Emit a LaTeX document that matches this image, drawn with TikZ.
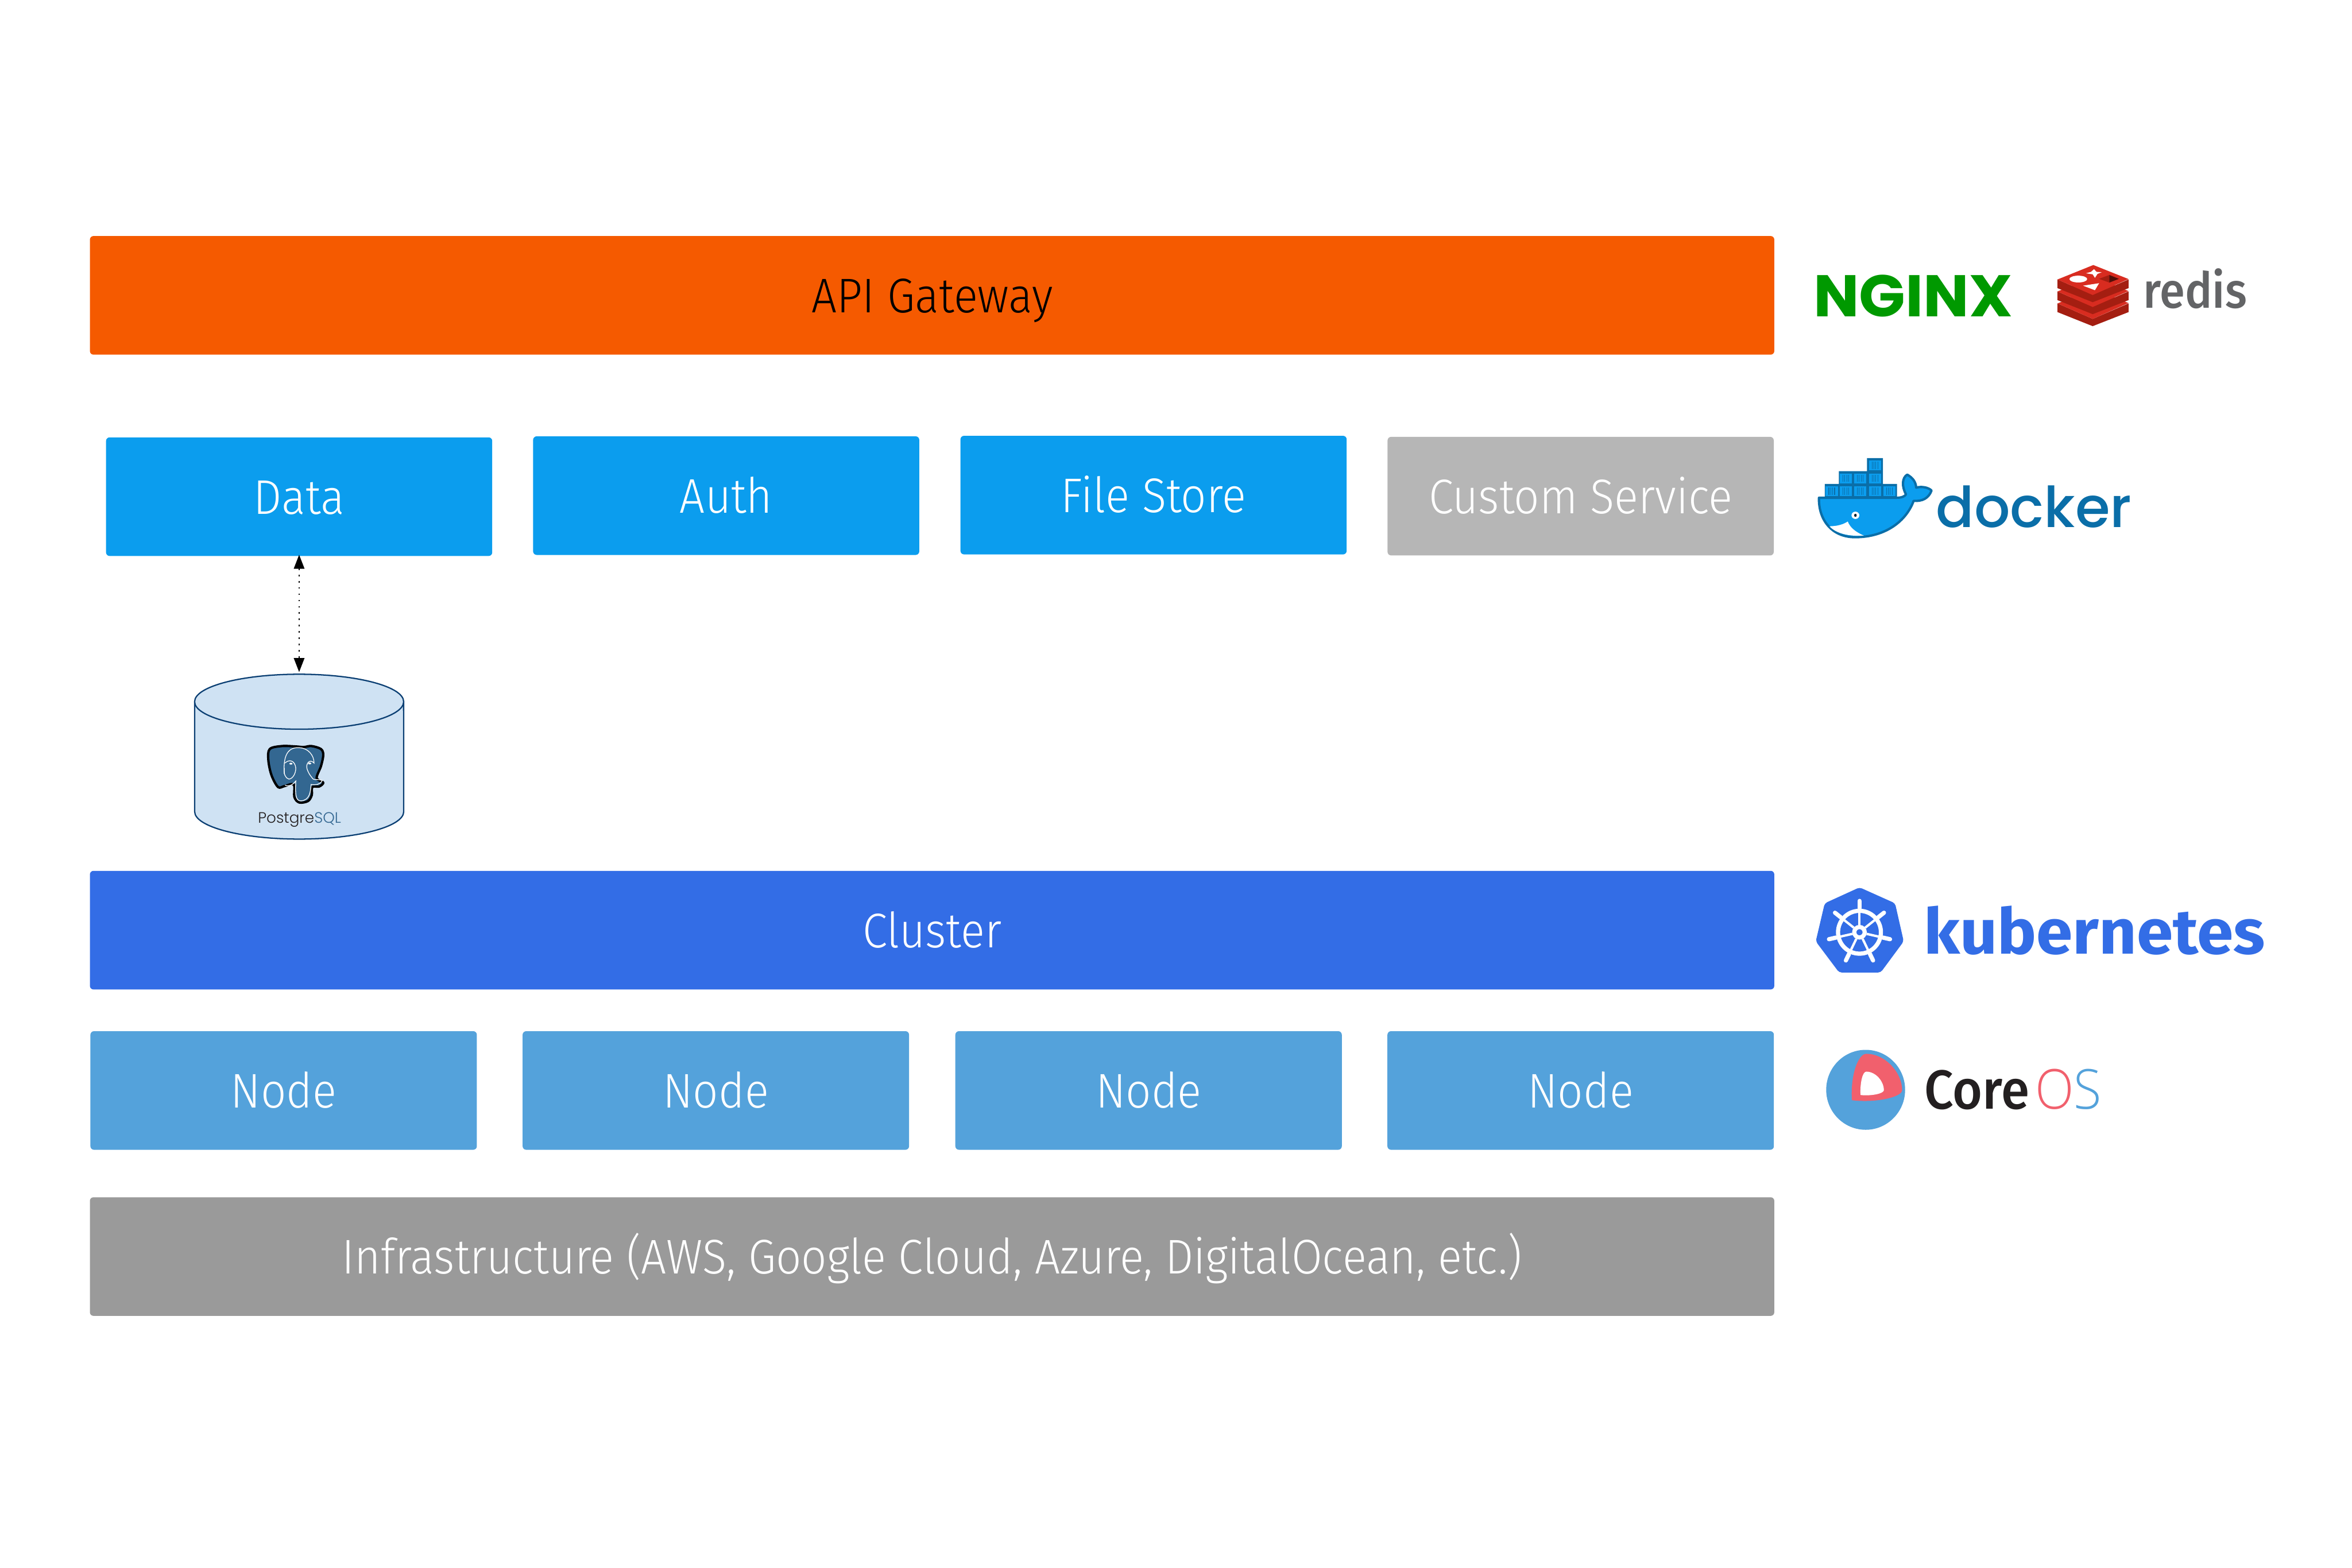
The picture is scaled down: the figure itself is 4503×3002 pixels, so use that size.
\documentclass[tikz,border=0pt]{standalone}
\usepackage{fontspec}
\usetikzlibrary{arrows.meta}
\setmainfont{Fira Sans Light}[FakeStretch=0.92]
\newfontfamily\firabold{Fira Sans Bold}
\newfontfamily\firamed{Fira Sans Medium}
\newfontfamily\popbold{Poppins Bold}
\newfontfamily\popmed{Poppins Medium}
\newfontfamily\poplight{Poppins Light}
\newfontfamily\oslight{Open Sans Light}
\definecolor{apiC}{HTML}{F55A00}
\definecolor{svcC}{HTML}{0B9DEE}
\definecolor{customC}{HTML}{B6B6B6}
\definecolor{clusterC}{HTML}{336DE6}
\definecolor{nodeC}{HTML}{54A2DB}
\definecolor{infraC}{HTML}{9A9A9A}
\definecolor{dbfill}{HTML}{CFE2F3}
\definecolor{dbline}{HTML}{0B3F73}
\definecolor{nginxC}{HTML}{009900}
\definecolor{redisL}{HTML}{D82C20}
\definecolor{redisD}{HTML}{A41E11}
\definecolor{redisT}{HTML}{636466}
\definecolor{dockD}{HTML}{0A6EA8}
\definecolor{coreR}{HTML}{F1606D}
\definecolor{coreK}{HTML}{231F20}
\definecolor{pgB}{HTML}{336791}
\tikzset{
  layerbox/.style={draw=none,rectangle,rounded corners=.07cm,inner sep=0pt,outer sep=0pt,
    minimum height=2.27cm,text height=1.465cm,text depth=.805cm,text=white,
    font=\fontsize{26.5}{30}\selectfont},
  wide/.style={layerbox,minimum width=32.23cm},
  svc/.style={layerbox,minimum width=7.39cm},
  worker/.style={layerbox,minimum width=7.395cm,fill=nodeC},
  logotext/.style={inner sep=0pt,outer sep=0pt,anchor=base west},
  dbshape/.style={fill=dbfill,draw=dbline,line width=.025cm},
  dots/.style={line width=.03cm,dash pattern=on .03cm off .09cm,shorten <=-.025cm,
    {Triangle[length=.27cm,width=.2cm]}-{Triangle[length=.27cm,width=.2cm]}},
  zoomA/.style={shift={(3420,460)},x=.006122cm,y=-.003954cm},
  zoomB/.style={shift={(3420,1660)},x=.006122cm,y=-.003316cm},
  zoomC/.style={shift={(340,1030)},x=.003333cm,y=-.003827cm},
}
\begin{document}
\begin{tikzpicture}[x=.01cm,y=-.01cm]
\useasboundingbox[fill=white] (0,0) rectangle (4503,3002);
% layers
\node[wide,fill=apiC,text=black] (api) at (1784.5,565.5) {API Gateway};
\node[svc,fill=svcC] (data) at (572.7,951) {Data};
\node[svc,fill=svcC] (auth) at (1390.3,949) {Auth};
\node[svc,fill=svcC] (files) at (2208.5,948) {File Store};
\node[svc,fill=customC] (custom) at (3026.2,950) {Custom Service};
\node[wide,fill=clusterC] (cluster) at (1784.5,1781) {Cluster};
\node[worker] (n1) at (543,2088) {Node};
\node[worker] (n2) at (1370.5,2088) {Node};
\node[worker] (n3) at (2199,2088) {Node};
\node[worker] (n4) at (3026.2,2088) {Node};
\node[wide,fill=infraC] (infra) at (1784.5,2406) {Infrastructure (AWS, Google Cloud, Azure, DigitalOcean, etc.)};
% database
\node[minimum width=4cm,minimum height=3.2cm,inner sep=0pt,outer sep=0pt] (db) at (572.7,1447) {};
\path[dbshape] (372.7,1343.6) -- (372.7,1554) arc[start angle=180,end angle=360,x radius=2cm,y radius=.526cm] -- (772.7,1343.6);
\path[dbshape] (572.7,1343.6) ellipse [x radius=2cm,y radius=.526cm];
\draw[dots] (data.south) -- (db.north);
% elephant
\begin{scope}[zoomC]
\draw[fill=pgB,line width=.045cm,line join=round] plot[smooth cycle,tension=.55] coordinates{(680,1042)(600,1040)(530,1055)(522,1110)(540,1185)(578,1245)(615,1240)(668,1232)(672,1295)(700,1322)(750,1315)(772,1285)(775,1245)(815,1242)(838,1222)(800,1200)(825,1140)(838,1085)(825,1055)(770,1040)(725,1045)};
\draw[white,line width=.014cm] (614,1180) .. controls (605,1080) and (640,1045) .. (700,1048) .. controls (750,1050) and (785,1085) .. (785,1125) .. controls (760,1100) and (735,1130) .. (745,1155) .. controls (755,1180) and (770,1195) .. (780,1205) .. controls (790,1210) and (820,1205) .. (832,1212) .. controls (820,1235) and (790,1235) .. (768,1232) .. controls (765,1270) and (760,1310) .. (710,1314) .. controls (675,1315) and (678,1270) .. (680,1215) .. controls (660,1235) and (640,1245) .. (618,1235);
\draw[white,line width=.014cm] (618,1125) .. controls (640,1105) and (675,1110) .. (680,1150) .. controls (680,1180) and (660,1205) .. (640,1205) .. controls (620,1200) and (610,1180) .. (614,1150);
\fill[white] (652,1128) ellipse [x radius=.03cm,y radius=.018cm];
\fill[white] (760,1127) ellipse [x radius=.03cm,y radius=.018cm];
\node[logotext] (pgtext) at (463,1425) {\poplight\fontsize{8.2}{9}\selectfont\textcolor{coreK}{Postgre}\textcolor{pgB}{SQL}};
\end{scope}
% nginx
\node[logotext,text=nginxC] (nginx) at (3472,606) {\popbold\fontsize{32}{36}\selectfont\scalebox{1.035}[1]{NGINX}};
% redis + docker icons
\begin{scope}[zoomA]
\foreach \d in {116,58,0}{
  \fill[redisD] (848,190+\d) -- (958,265+\d) -- (1070,190+\d) -- (1070,232+\d) -- (958,300+\d) -- (848,232+\d) -- cycle;
  \fill[redisL] (848,190+\d) -- (960,120+\d) -- (1070,188+\d) -- (958,265+\d) -- cycle;
}
\fill[white] (962,140) -- (970,153) -- (986,155) -- (973,163) -- (965,182) -- (958,165) -- (937,160) -- (953,153) -- cycle;
\fill[white] (913,188) ellipse [x radius=.17cm,y radius=.065cm];
\fill[white] (928,220) -- (978,208) -- (965,242) -- cycle;
\fill[redisD] (978,187) -- (1010,168) -- (1010,205) -- cycle;
\fill[black!50!redisD] (1010,168) -- (1040,187) -- (1010,205) -- cycle;
% docker whale
\fill[dockD] (252,1055) rectangle (302,1120) (164,1118) rectangle (302,1182) (120,1180) rectangle (346,1248);
\foreach \cx/\cy in {277/1090,186/1153,231/1153,277/1153,142/1215,186/1215,231/1215,277/1215,322/1215}{
  \fill[svcC] (\cx-19,\cy-24) rectangle (\cx+19,\cy+24);
  \foreach \lx in {-9,-3,3,9}{\draw[dockD,line width=.012cm] (\cx+\lx,\cy-17) -- (\cx+\lx,\cy+17);}
}
\draw[fill=svcC,draw=dockD,line width=.045cm,line join=round] (102,1247) -- (345,1247) .. controls (360,1247) and (372,1240) .. (374,1230) .. controls (360,1190) and (362,1150) .. (378,1135) .. controls (395,1150) and (405,1170) .. (406,1198) .. controls (425,1190) and (445,1198) .. (454,1212) .. controls (445,1250) and (425,1265) .. (398,1262) .. controls (375,1360) and (310,1438) .. (215,1438) .. controls (140,1438) and (100,1350) .. (102,1247) -- cycle;
\fill[white] (135,1385) .. controls (160,1385) and (180,1375) .. (192,1362) .. controls (200,1395) and (220,1415) .. (242,1430) .. controls (195,1435) and (155,1420) .. (135,1385) -- cycle;
\fill[white] (216,1332) ellipse [x radius=.075cm,y radius=.07cm];
\fill[black!70!dockD] (216,1332) ellipse [x radius=.025cm,y radius=.03cm];
\node[logotext,text=redisT] (redis) at (1116,328) {\firamed\fontsize{27}{30}\selectfont\scalebox{.92}[1]{redis}};
\node[logotext,text=dockD] (docker) at (468,1390) {\popmed\fontsize{30.7}{36}\selectfont docker};
\end{scope}
% kubernetes + coreos
\begin{scope}[zoomB]
\fill[clusterC,rounded corners=.05cm] (229,118) -- (340,210) -- (367,430) -- (295,610) -- (165,610) -- (92,430) -- (120,210) -- cycle;
\node[logotext,text=clusterC] (k8s) at (431,503) {\firabold\fontsize{34.5}{38}\selectfont\scalebox{1.035}[1]{kubernetes}};
\fill[nodeC] (248,1288) ellipse [x radius=.755cm,y radius=.765cm];
\fill[coreR] (205,1348) .. controls (200,1200) and (225,1080) .. (250,1080) .. controls (310,1080) and (362,1190) .. (362,1290) .. controls (362,1330) and (280,1365) .. (205,1348) -- cycle;
\fill[white] (232,1318) .. controls (230,1250) and (238,1183) .. (250,1183) .. controls (280,1183) and (305,1240) .. (305,1290) .. controls (305,1310) and (265,1325) .. (232,1318) -- cycle;
\node[logotext,text=coreK] (core) at (432,1398) {\firamed\fontsize{30}{34}\selectfont\scalebox{.93}[1]{Core}};
\node[logotext] (os) at (778,1398) {\oslight\fontsize{30}{34}\selectfont\scalebox{.92}[1]{\textcolor{coreR}{O}\textcolor{nodeC}{S}}};
\end{scope}
% ship wheel
\begin{scope}[shift={(3560,1785)}]
\draw[white,line width=.08cm] (0,0) circle [radius=.41cm];
\foreach \a in {-90,-38.57,12.86,64.29,115.71,167.14,218.57}{
  \draw[white,line width=.045cm] (\a:14) -- (\a:46);
  \draw[white,line width=.08cm,line cap=round] (\a:46) -- (\a:60);
}
\draw[white,line width=.08cm] (0,0) circle [radius=.1cm];
\end{scope}
\end{tikzpicture}
\end{document}
